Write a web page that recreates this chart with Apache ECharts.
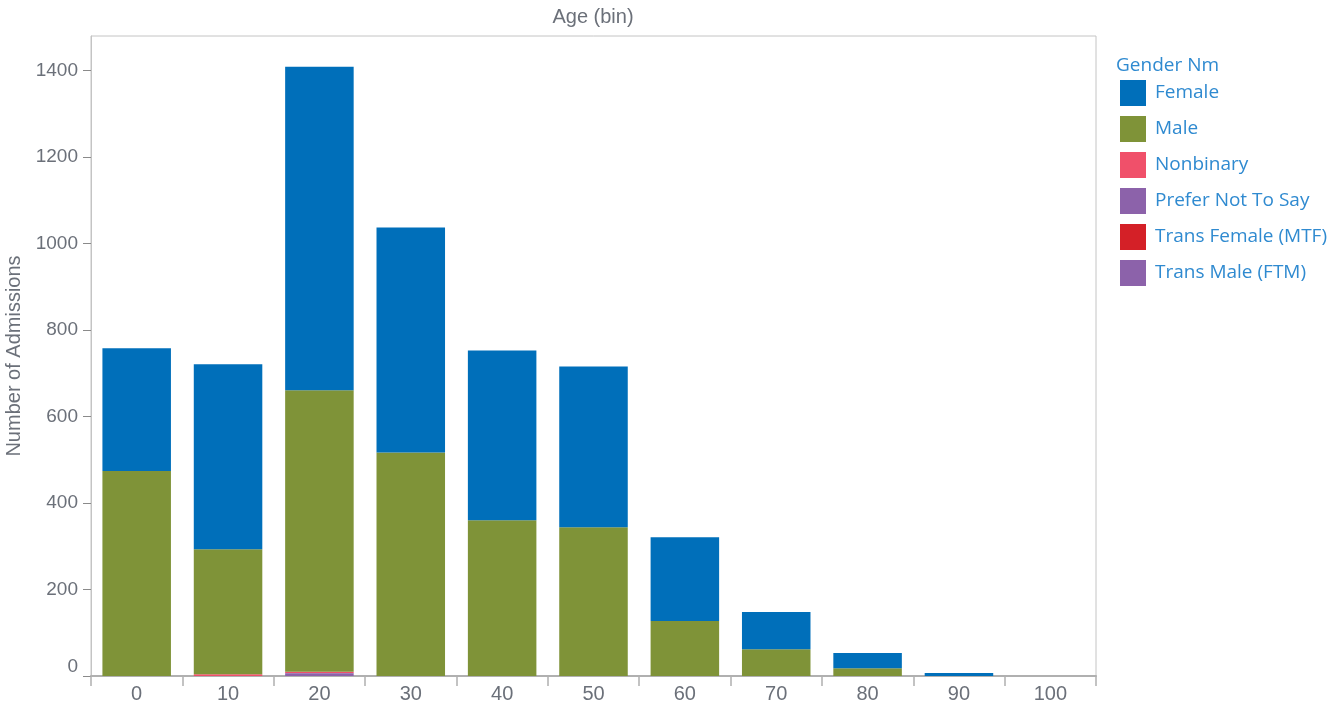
<!DOCTYPE html>
<html><head><meta charset="utf-8">
<script src="https://cdn.jsdelivr.net/npm/echarts@6/dist/echarts.min.js"></script>
<style>html,body{margin:0;padding:0;background:#fff}#c{width:1343px;height:706px}</style>
</head><body><div id="c"></div>
<script>
const categories = ['0','10','20','30','40','50','60','70','80','90','100'];
const female      = [284, 428, 748, 520, 393, 372, 194, 86, 35, 7, 0];
const male        = [474, 289, 651, 517, 360, 344, 127, 62, 18, 0, 0];
const nonbinary   = [0, 4, 3, 0, 0, 0, 0, 0, 0, 0, 0];
const preferNot   = [0, 0, 2, 0, 0, 0, 0, 0, 0, 0, 0];
const transFemale = [0, 0, 0, 0, 0, 0, 0, 0, 0, 0, 0];
const transMale   = [0, 0, 5, 0, 0, 0, 0, 0, 0, 0, 0];
const yTicks = [0, 200, 400, 600, 800, 1000, 1200, 1400];

const seriesDefs = [
  ['Trans Male (FTM)', transMale, '#8c62aa'],
  ['Trans Female (MTF)', transFemale, '#d42027'],
  ['Prefer Not To Say', preferNot, '#8c62aa'],
  ['Nonbinary', nonbinary, '#f0506a'],
  ['Male', male, '#7f9338'],
  ['Female', female, '#006fba']
];
const chart = echarts.init(document.getElementById('c'));
const labelColor = '#6b7079';
chart.setOption({
  animation: false,
  title: [
    {text: 'Age (bin)', left: 593, top: 7, textAlign: 'center', padding: 0,
     textStyle: {fontFamily: 'Liberation Sans', fontSize: 20, fontWeight: 'normal', color: labelColor}},
    {text: 'Gender Nm', left: 1116, top: 56, padding: 0,
     textStyle: {fontFamily: 'Open Sans', fontSize: 19, fontWeight: 'normal', color: '#2f8ad0'}}
  ],
  grid: {left: 91, right: 247, top: 36, bottom: 30, show: true, borderColor: '#c4c4c4', borderWidth: 1,
         outerBoundsMode: 'none', containLabel: false},
  legend: {
    orient: 'vertical', left: 1120, top: 80, itemWidth: 26, itemHeight: 26, itemGap: 10,
    icon: 'rect', padding: 0,
    data: ['Female','Male','Nonbinary','Prefer Not To Say','Trans Female (MTF)','Trans Male (FTM)'],
    textStyle: {fontFamily: 'Open Sans', fontSize: 19, color: '#2f8ad0', padding: [0,0,0,4]}
  },
  xAxis: {
    type: 'category', data: categories,
    axisLine: {lineStyle: {color: '#b0b0b0', width: 2}},
    axisTick: {show: true, length: 10, lineStyle: {color: '#b0b0b0', width: 1.5}},
    axisLabel: {fontFamily: 'Liberation Sans', fontSize: 20, color: labelColor, margin: 8}
  },
  yAxis: {
    type: 'value', min: 0, max: 1480, interval: 200,
    name: 'Number of Admissions', nameLocation: 'middle', nameGap: 64,
    nameTextStyle: {fontFamily: 'Liberation Sans', fontSize: 20, color: labelColor},
    splitLine: {show: false},
    axisLine: {show: true, lineStyle: {color: '#c4c4c4'}},
    axisTick: {show: true, length: 8, lineStyle: {color: '#8a8a8a'}},
    axisLabel: {fontFamily: 'Liberation Sans', fontSize: 19, color: labelColor, margin: 13,
      verticalAlignMinLabel: 'bottom', showMaxLabel: false,
      formatter: v => yTicks.includes(v) ? String(v) : ''}
  },
  series: seriesDefs.map(([name, data, color]) => ({
    name, type: 'bar', stack: 'g', data, barWidth: '75%',
    itemStyle: {color}
  }))
});
</script></body></html>
